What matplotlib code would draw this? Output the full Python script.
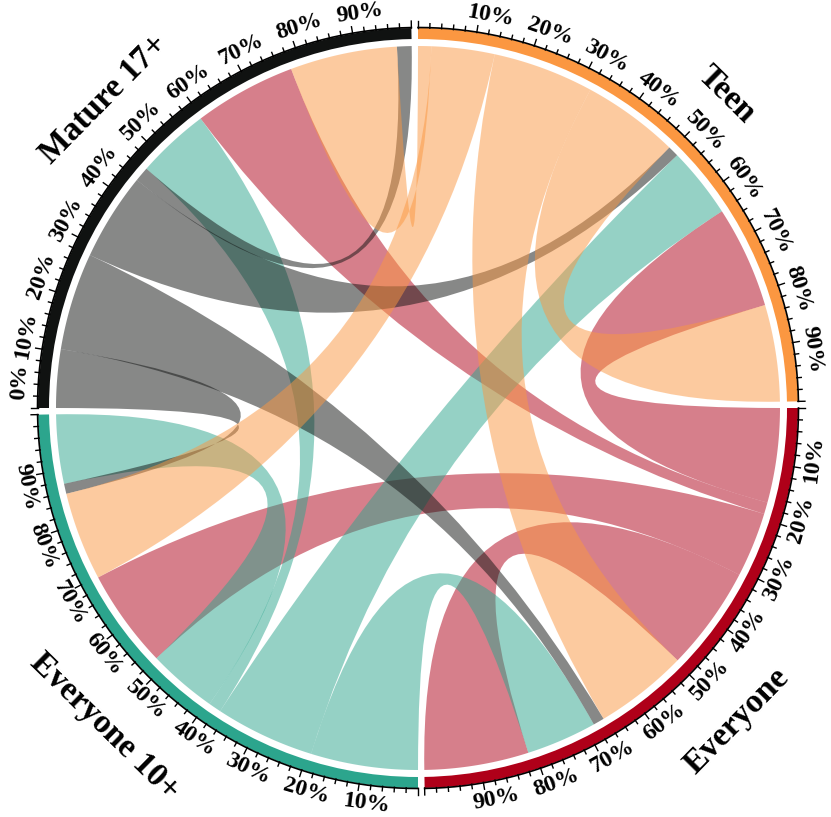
import numpy as np
import matplotlib.pyplot as plt
from matplotlib.path import Path
from matplotlib.patches import PathPatch, Wedge

# sectors in clockwise order, starting at 3 o'clock
sectors = ["Everyone", "Everyone 10+", "Mature 17+", "Teen"]
sector_colors = ["#AF0019", "#2CA58D", "#101211", "#FB9741"]

# flows[i][j] = links from sectors[i] to sectors[j]
flows = np.array([
    [188, 117, 21, 170],
    [127, 82, 15, 118],
    [20, 12, 3, 18],
    [168, 105, 22, 161],
])

tick_pct = np.arange(0, 101, 2)
label_pct = np.arange(10, 100, 10)
zero_label_sectors = ["Mature 17+"]

# geometry (pixels)
CX, CY = 418, 408
R_LINK = 362
R_IN, R_OUT = 369, 380
R_TICKLAB = 399
R_NAME_UP, R_NAME_LOW = 440, 447
SPAN = 89  # degrees per sector, 1 degree gap after each

FONT = "Liberation Serif"


def pt(pos, r):
    a = np.radians(pos)
    return CX + r * np.cos(a), CY + r * np.sin(a)


def text_rot(pos):
    pos = pos % 360
    if pos >= 180:  # upper half, tops outward
        return -pos - 90
    return 90 - pos


fig = plt.figure(figsize=(8.31, 8.17), dpi=100)
ax = fig.add_axes([0, 0, 1, 1])
ax.set_xlim(0, 831)
ax.set_ylim(817, 0)
ax.axis("off")

n = len(sectors)
totals = flows.sum(axis=1) + flows.sum(axis=0)
starts = [k * 90 for k in range(n)]

# link end positions inside each sector: outgoing first, then incoming
out_rng, in_rng = {}, {}
for s in range(n):
    order = [(s - 1) % n, (s - 2) % n, (s - 3) % n, s]
    cur = 0.0
    for t in order:
        w = flows[s, t] / totals[s]
        out_rng[(s, t)] = (starts[s] + SPAN * cur, starts[s] + SPAN * (cur + w))
        cur += w
    for src in order:
        w = flows[src, s] / totals[s]
        in_rng[(src, s)] = (starts[s] + SPAN * cur, starts[s] + SPAN * (cur + w))
        cur += w


def arc_pts(p0, p1, r):
    k = max(int(abs(p1 - p0) * 2), 2)
    return [pt(p, r) for p in np.linspace(p0, p1, k)]


for i in range(n):
    for j in range(n):
        if flows[i, j] == 0:
            continue
        s0, s1 = out_rng[(i, j)]
        t0, t1 = in_rng[(i, j)]
        a = arc_pts(s0, s1, R_LINK)
        b = arc_pts(t0, t1, R_LINK)
        verts = a + [(CX, CY), b[0]] + b[1:] + [(CX, CY), a[0], a[0]]
        codes = ([Path.MOVETO] + [Path.LINETO] * (len(a) - 1)
                 + [Path.CURVE3, Path.CURVE3] + [Path.LINETO] * (len(b) - 1)
                 + [Path.CURVE3, Path.CURVE3, Path.CLOSEPOLY])
        ax.add_patch(PathPatch(Path(verts, codes), facecolor=sector_colors[i],
                               alpha=0.5, lw=0, zorder=2))

# sector bands, axis lines, ticks and labels
for s, name in enumerate(sectors):
    st = starts[s]
    ax.add_patch(Wedge((CX, CY), R_OUT, st, st + SPAN, width=R_OUT - R_IN,
                       facecolor=sector_colors[s], edgecolor="none", zorder=3))
    line = np.array(arc_pts(st, st + SPAN, R_OUT + 0.5))
    ax.plot(line[:, 0], line[:, 1], color="black", lw=1.2, zorder=4)
    for p in tick_pct:
        pos = st + SPAN * p / 100
        ln = 7 if p % 10 == 0 else 4.5
        x0, y0 = pt(pos, R_OUT)
        x1, y1 = pt(pos, R_OUT + ln)
        ax.plot([x0, x1], [y0, y1], color="black", lw=1.0, zorder=4)

    labels = list(label_pct)
    if name in zero_label_sectors:
        labels = [0] + labels
    for p in labels:
        pos = st + SPAN * p / 100
        upper = (pos % 360) >= 180
        shift = 3.7 if p == 0 else 1.5
        lp = pos + shift if upper else pos - shift
        x, y = pt(lp, R_TICKLAB)
        ax.text(x, y, f"{p}%", rotation=text_rot(lp), rotation_mode="anchor",
                ha="center", va="center", fontsize=17, fontweight="bold",
                family=FONT, zorder=5)

    mid = st + SPAN / 2
    r_name = R_NAME_UP if mid >= 180 else R_NAME_LOW
    x, y = pt(mid, r_name)
    ax.text(x, y, name, rotation=text_rot(mid), rotation_mode="anchor",
            ha="center", va="center", fontsize=24, fontweight="bold",
            family=FONT, zorder=5)

fig.savefig("out.png", dpi=100)
